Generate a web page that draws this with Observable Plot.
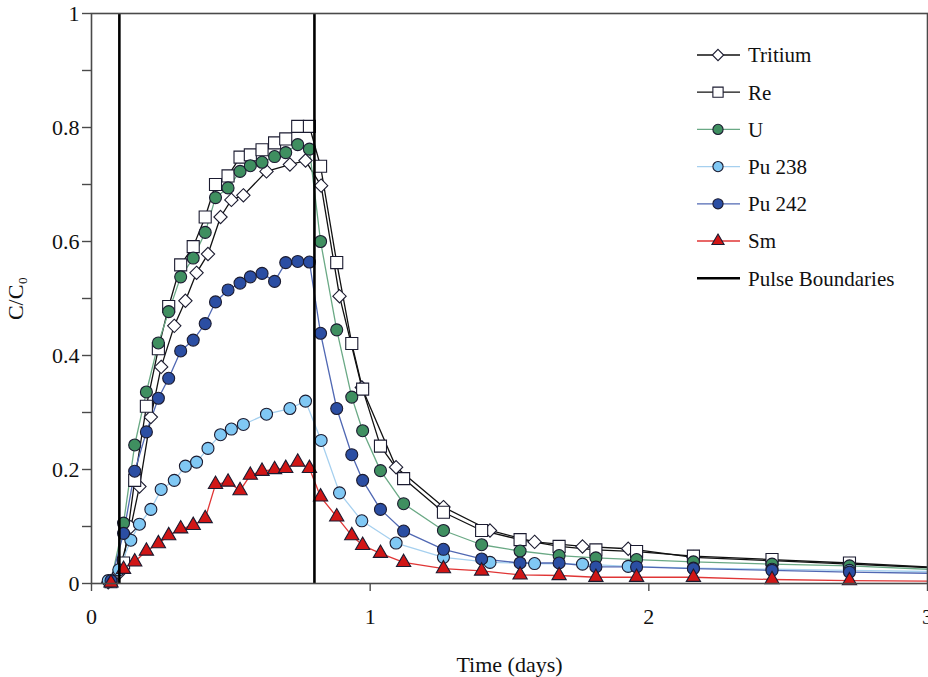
<!DOCTYPE html>
<html><head><meta charset="utf-8">
<script src="https://cdn.jsdelivr.net/npm/d3@7"></script>
<script src="https://cdn.jsdelivr.net/npm/@observablehq/plot@0.6"></script>
<style>body{margin:0;background:#fff}</style>
</head><body><div id="chart"></div>
<script>
// Sampling times (days)
const timesA = [0.07, 0.115, 0.155, 0.197, 0.24, 0.277, 0.32, 0.365, 0.408, 0.445, 0.49, 0.533, 0.57, 0.612, 0.657, 0.697, 0.74, 0.782, 0.822, 0.88, 0.934, 0.973, 1.037, 1.12, 1.263, 1.40, 1.538, 1.678, 1.81, 1.956, 2.16, 2.442, 2.72];
const timesB = [0.06, 0.098, 0.141, 0.172, 0.213, 0.25, 0.297, 0.337, 0.377, 0.418, 0.463, 0.502, 0.545, 0.628, 0.712, 0.768, 0.824, 0.89, 0.97, 1.093, 1.263, 1.43, 1.59, 1.762, 1.926, 2.16, 2.442, 2.72];

// C/C0 values
const tritium = [0.002, 0.018, 0.099, 0.17, 0.292, 0.38, 0.452, 0.496, 0.545, 0.578, 0.643, 0.673, 0.681, 0.723, 0.735, 0.742, 0.698, 0.504, 0.344, 0.204, 0.134, 0.093, 0.073, 0.065, 0.061, 0.046, 0.04, 0.034];
const re = [0.003, 0.036, 0.181, 0.311, 0.412, 0.486, 0.559, 0.591, 0.643, 0.70, 0.715, 0.748, 0.752, 0.761, 0.773, 0.78, 0.802, 0.802, 0.732, 0.563, 0.421, 0.341, 0.241, 0.184, 0.125, 0.093, 0.077, 0.065, 0.059, 0.056, 0.048, 0.042, 0.036];
const u = [0.004, 0.106, 0.243, 0.336, 0.422, 0.477, 0.538, 0.571, 0.616, 0.677, 0.694, 0.723, 0.733, 0.739, 0.749, 0.756, 0.77, 0.762, 0.60, 0.445, 0.327, 0.268, 0.198, 0.14, 0.093, 0.068, 0.057, 0.049, 0.045, 0.042, 0.038, 0.034, 0.031];
const pu238 = [0.005, 0.024, 0.076, 0.104, 0.13, 0.165, 0.181, 0.206, 0.213, 0.237, 0.261, 0.271, 0.279, 0.297, 0.307, 0.32, 0.251, 0.159, 0.11, 0.071, 0.046, 0.037, 0.035, 0.034, 0.03, 0.027, 0.025, 0.023];
const pu242 = [0.005, 0.088, 0.197, 0.266, 0.325, 0.36, 0.408, 0.427, 0.456, 0.494, 0.515, 0.527, 0.538, 0.544, 0.53, 0.563, 0.565, 0.564, 0.439, 0.307, 0.226, 0.181, 0.13, 0.092, 0.06, 0.043, 0.036, 0.036, 0.029, 0.029, 0.026, 0.023, 0.02];
const sm = [0.001, 0.025, 0.038, 0.057, 0.07, 0.084, 0.096, 0.102, 0.114, 0.174, 0.178, 0.163, 0.19, 0.197, 0.20, 0.202, 0.213, 0.202, 0.152, 0.117, 0.084, 0.067, 0.053, 0.037, 0.026, 0.022, 0.015, 0.014, 0.011, 0.011, 0.011, 0.007, 0.005];

// Value where each curve leaves the plot at the right edge (day 3)
const edgeTime = 3;
const edgeValues = [0.028, 0.029, 0.025, 0.021, 0.018, 0.004];

const seriesNames = ["Tritium", "Re", "U", "Pu 238", "Pu 242", "Sm"];
const pulseLabel = "Pulse Boundaries";
const pulseBoundaries = [0.1, 0.8];
const yTicks = [0, 0.1, 0.2, 0.3, 0.4, 0.5, 0.6, 0.7, 0.8, 0.9, 1];
const yTickLabels = ["0", "", "0.2", "", "0.4", "", "0.6", "", "0.8", "", "1"];
const xTicks = [0, 1, 2, 3];
const xTickLabels = ["0", "1", "2", "3"];

const series = [
  {name: seriesNames[0], t: timesB, v: tritium, edge: edgeValues[0], symbol: "diamond2", d3sym: d3.symbolDiamond2, r: 6.0, fill: "#ffffff", line: "#111111"},
  {name: seriesNames[1], t: timesA, v: re, edge: edgeValues[1], symbol: "square", d3sym: d3.symbolSquare, r: 6.8, fill: "#ffffff", line: "#111111"},
  {name: seriesNames[2], t: timesA, v: u, edge: edgeValues[2], symbol: "circle", d3sym: d3.symbolCircle, r: 6, fill: "#3f8f60", line: "#6aa985"},
  {name: seriesNames[3], t: timesB, v: pu238, edge: edgeValues[3], symbol: "circle", d3sym: d3.symbolCircle, r: 6, fill: "#80c8f4", line: "#a6d0ef"},
  {name: seriesNames[4], t: timesA, v: pu242, edge: edgeValues[4], symbol: "circle", d3sym: d3.symbolCircle, r: 6, fill: "#2b4ea3", line: "#5068b3"},
  {name: seriesNames[5], t: timesA, v: sm, edge: edgeValues[5], symbol: "triangle", d3sym: d3.symbolTriangle, r: 5.3, fill: "#d11616", line: "#e03535"}
];

const W = 928, H = 677;
const font = "'Liberation Serif', 'DejaVu Serif', serif";

const marks = [];
for (const s of series) {
  const pts = s.t.map((t, i) => ({t, v: s.v[i]}));
  const linePts = pts.concat([{t: edgeTime, v: s.edge}]);
  marks.push(Plot.line(linePts, {x: "t", y: "v", stroke: s.line, strokeWidth: 1.3, clip: true}));
}
for (const s of series) {
  const pts = s.t.map((t, i) => ({t, v: s.v[i]}));
  marks.push(Plot.dot(pts, {x: "t", y: "v", symbol: () => s.symbol, r: s.r, fill: s.fill, stroke: "#1b1b30", strokeWidth: 1.1}));
}

const plot = Plot.plot({
  width: W, height: H,
  marginLeft: 91, marginRight: 1, marginTop: 13, marginBottom: 94,
  x: {domain: [0, 3]},
  y: {domain: [0, 1]},
  style: {fontFamily: font, fontSize: "21px", color: "#111", background: "#fff", overflow: "visible"},
  marks: [
    ...marks,
    Plot.ruleX(pulseBoundaries, {stroke: "#000", strokeWidth: 2.6}),
    Plot.frame({stroke: "#4a4a4a", strokeWidth: 1.6}),
    Plot.axisY({ticks: yTicks, tickFormat: (d, i) => yTickLabels[i], tickSize: 9, tickPadding: 3, stroke: "#4a4a4a", strokeWidth: 1.4, fontSize: 22,
      label: "C/C₀", labelAnchor: "center", labelArrow: "none", labelOffset: 84}),
    Plot.axisX({ticks: xTicks, tickFormat: (d, i) => xTickLabels[i], tickSize: 8, tickPadding: 17, stroke: "#4a4a4a", strokeWidth: 1.4, fontSize: 22,
      label: "Time (days)", labelAnchor: "center", labelArrow: "none", labelOffset: 88})
  ]
});

// Legend inside the plot area (top right)
const svg = d3.select(plot);
const lg = svg.append("g")
  .style("font-family", font).style("font-size", "21px")
  .attr("fill", "#111").attr("text-anchor", "start");
const legendItems = series.map(s => ({name: s.name, s})).concat([{name: pulseLabel, s: null}]);
legendItems.forEach((item, i) => {
  const y = 55 + i * 37.2;
  const g = lg.append("g").attr("transform", `translate(0,${y})`);
  if (item.s) {
    g.append("line").attr("x1", 697).attr("x2", 740).attr("y1", 0).attr("y2", 0).attr("stroke", item.s.line).attr("stroke-width", 1.3);
    g.append("path").attr("transform", "translate(718,0)")
      .attr("d", d3.symbol(item.s.d3sym, Math.PI * (item.s.r * 0.85) ** 2)())
      .attr("fill", item.s.fill).attr("stroke", "#1b1b30").attr("stroke-width", 1.1);
  } else {
    g.append("line").attr("x1", 697).attr("x2", 740).attr("y1", 0).attr("y2", 0).attr("stroke", "#000").attr("stroke-width", 2.6);
  }
  g.append("text").attr("x", 748).attr("y", 0).attr("dy", "0.35em")
    .style("font-family", font).style("font-size", "21px").text(item.name);
});

document.getElementById("chart").appendChild(plot);
</script>
</body></html>
